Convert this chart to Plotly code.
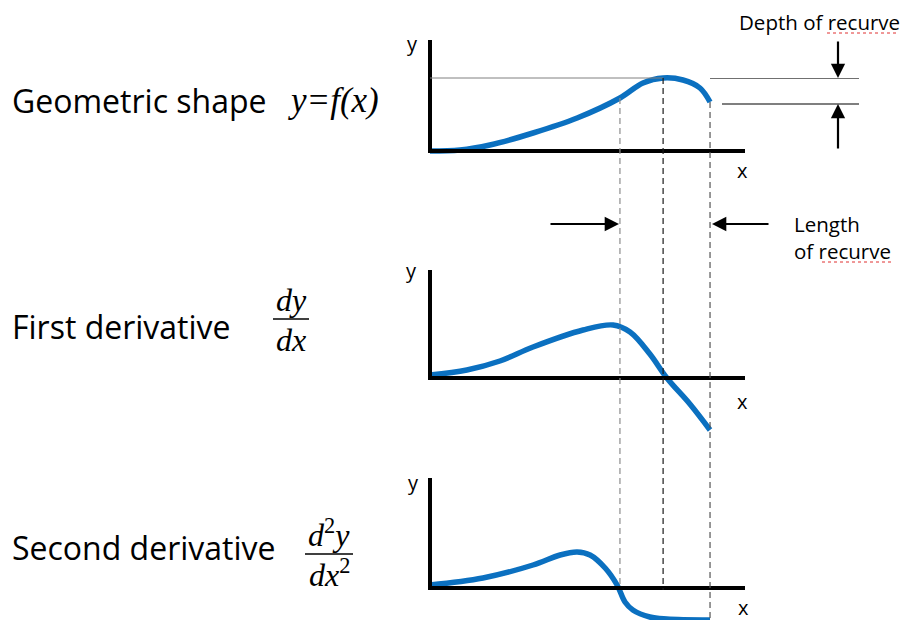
import plotly.graph_objects as go

W, H = 901, 620

# curves (x along each panel's axis, y above its x-axis)
shape_x = [0, 0.95, 1.9, 3.27, 4.67, 6.03, 6.76, 7.40, 8.03, 8.57, 8.89]
shape_y = [0, 0.1, 0.6, 1.8, 3.3, 5.3, 6.8, 7.3, 7.1, 6.3, 4.9]

first_x = [0, 1.17, 2.22, 3.27, 4.86, 5.81, 6.35, 6.98, 7.52, 8.25, 8.89]
first_y = [0.3, 0.8, 1.7, 3.1, 4.8, 5.3, 4.6, 2.4, 0.0, -2.6, -5.2]

second_x = [0, 1.68, 3.27, 4.13, 4.67, 5.08, 5.56, 5.94, 6.19, 6.44, 6.98, 7.52, 8.89]
second_y = [0.3, 1.0, 2.3, 3.3, 3.6, 3.3, 2.0, 0.3, -1.4, -2.2, -2.9, -3.1, -3.2]

row_labels = ["Geometric shape", "First derivative", "Second derivative"]

# key x positions (panel units)
recurve_start = shape_x[5]
crest = shape_x[7]
tip = shape_x[-1]

BLUE = "#0b70c0"


def px(x):
    return x / W


def py(y):
    return 1 - y / H


fig = go.Figure()

panels = [
    ("x2", "y2", shape_x, shape_y),
    ("x3", "y3", first_x, first_y),
    ("x4", "y4", second_x, second_y),
]
for xa, ya, xs, ys in panels:
    fig.add_trace(go.Scatter(x=xs, y=ys, xaxis=xa, yaxis=ya, mode="lines",
                             line=dict(color=BLUE, width=5.5, shape="spline", smoothing=1.0),
                             hoverinfo="skip", showlegend=False))

hide = dict(visible=False, showgrid=False, zeroline=False, fixedrange=True)
xdom = [px(398.5), px(776.5)]
fig.update_layout(
    width=W, height=H, margin=dict(l=0, r=0, t=0, b=0),
    paper_bgcolor="white", plot_bgcolor="rgba(0,0,0,0)",
    xaxis2=dict(domain=xdom, range=[-1, 11], anchor="y2", **hide),
    yaxis2=dict(domain=[py(160), py(35)], range=[-0.9, 11.6], anchor="x2", **hide),
    xaxis3=dict(domain=xdom, range=[-1, 11], anchor="y3", **hide),
    yaxis3=dict(domain=[py(440), py(265)], range=[-6.2, 11.3], anchor="x3", **hide),
    xaxis4=dict(domain=xdom, range=[-1, 11], anchor="y4", **hide),
    yaxis4=dict(domain=[0, py(470)], range=[-3.2, 11.8], anchor="x4", **hide),
)

# panel axes
tops = [11.1, 10.8, 11.0]
for (xa, ya, _, _), top in zip(panels, tops):
    fig.add_shape(type="line", xref=xa, yref=ya, x0=0, x1=0, y0=-0.2, y1=top,
                  line=dict(color="black", width=4))
    fig.add_shape(type="line", xref=xa, yref=ya, x0=-0.06, x1=10.0, y0=0, y1=0,
                  line=dict(color="black", width=4))

# crest level and tip level guides
crest_y = max(shape_y)
fig.add_shape(type="line", xref="x2", yref="y2", x0=0, x1=crest, y0=crest_y, y1=crest_y,
              line=dict(color="#808080", width=1))
fig.add_shape(type="line", xref="paper", yref="y2", x0=px(710), x1=px(859), y0=crest_y - 0.05,
              y1=crest_y - 0.05, line=dict(color="#707070", width=1.2))
fig.add_shape(type="line", xref="paper", yref="y2", x0=px(722), x1=px(859), y0=shape_y[-1] - 0.2,
              y1=shape_y[-1] - 0.2, line=dict(color="black", width=1.2))

# vertical dashed guides
for xv, y0, y1, col in [(recurve_start, 98, 588, "#8c8c8c"),
                         (crest, 78, 590, "#1a1a1a"),
                         (tip, 102, 620, "#555555")]:
    fig.add_shape(type="line", xref="x2", yref="paper", x0=xv, x1=xv, y0=py(y0), y1=py(y1),
                  line=dict(color=col, width=1.2, dash="6px,4px"))

# arrows
for hx, hy, ax, ay in [(838, 78, 0, -38), (838, 104, 0, 46), (619, 224, -70, 0), (712, 224, 58, 0)]:
    fig.add_annotation(x=px(hx), y=py(hy), xref="paper", yref="paper", ax=ax, ay=ay,
                       axref="pixel", ayref="pixel", text="", showarrow=True,
                       arrowhead=2, arrowsize=1.3, arrowwidth=2.2, arrowcolor="black")

SANS = "Open Sans"
SERIF = "Liberation Serif"


def text(x, y, s, size, family=SANS, xanchor="left"):
    fig.add_annotation(x=px(x), y=py(y), xref="paper", yref="paper", text=s, showarrow=False,
                       xanchor=xanchor, yanchor="middle", font=dict(family=family, size=size, color="black"))


# row labels
for label, yy in zip(row_labels, [101, 326, 547]):
    text(10, yy, label, 32)

text(286, 101, "<i>y=f(x)</i>", 35, SERIF)

# dy/dx
text(291, 300, "<i>dy</i>", 32, SERIF, "center")
text(291, 340, "<i>dx</i>", 32, SERIF, "center")
fig.add_shape(type="line", xref="paper", yref="paper", x0=px(273), x1=px(309), y0=py(319), y1=py(319),
              line=dict(color="black", width=1.4))
# d2y/dx2
text(329, 533, "<i>d</i><sup>2</sup><i>y</i>", 32, SERIF, "center")
text(329, 573, "<i>dx</i><sup>2</sup>", 32, SERIF, "center")
fig.add_shape(type="line", xref="paper", yref="paper", x0=px(305), x1=px(353), y0=py(554), y1=py(554),
              line=dict(color="black", width=1.4))

# axis letters
for xy_, yy_ in [(412, 44), (411, 270), (413, 482)]:
    text(xy_, yy_, "y", 20, SANS, "center")
for xx_, yy_ in [(742, 170), (742, 401), (743, 607)]:
    text(xx_, yy_, "x", 20, SANS, "center")

# annotations on the right
text(819, 22, "Depth of recurve", 20.5, SANS, "center")
text(792, 224, "Length", 20.5)
text(792, 251, "of recurve", 20.5)
for x0, x1, yy in [(827, 898, 33), (822, 891, 262)]:
    fig.add_shape(type="line", xref="paper", yref="paper", x0=px(x0), x1=px(x1), y0=py(yy), y1=py(yy),
                  line=dict(color="#e03030", width=1, dash="dot"))

fig.write_html("out.html", config={"displayModeBar": False},
               post_script="document.body.style.margin='0';")
